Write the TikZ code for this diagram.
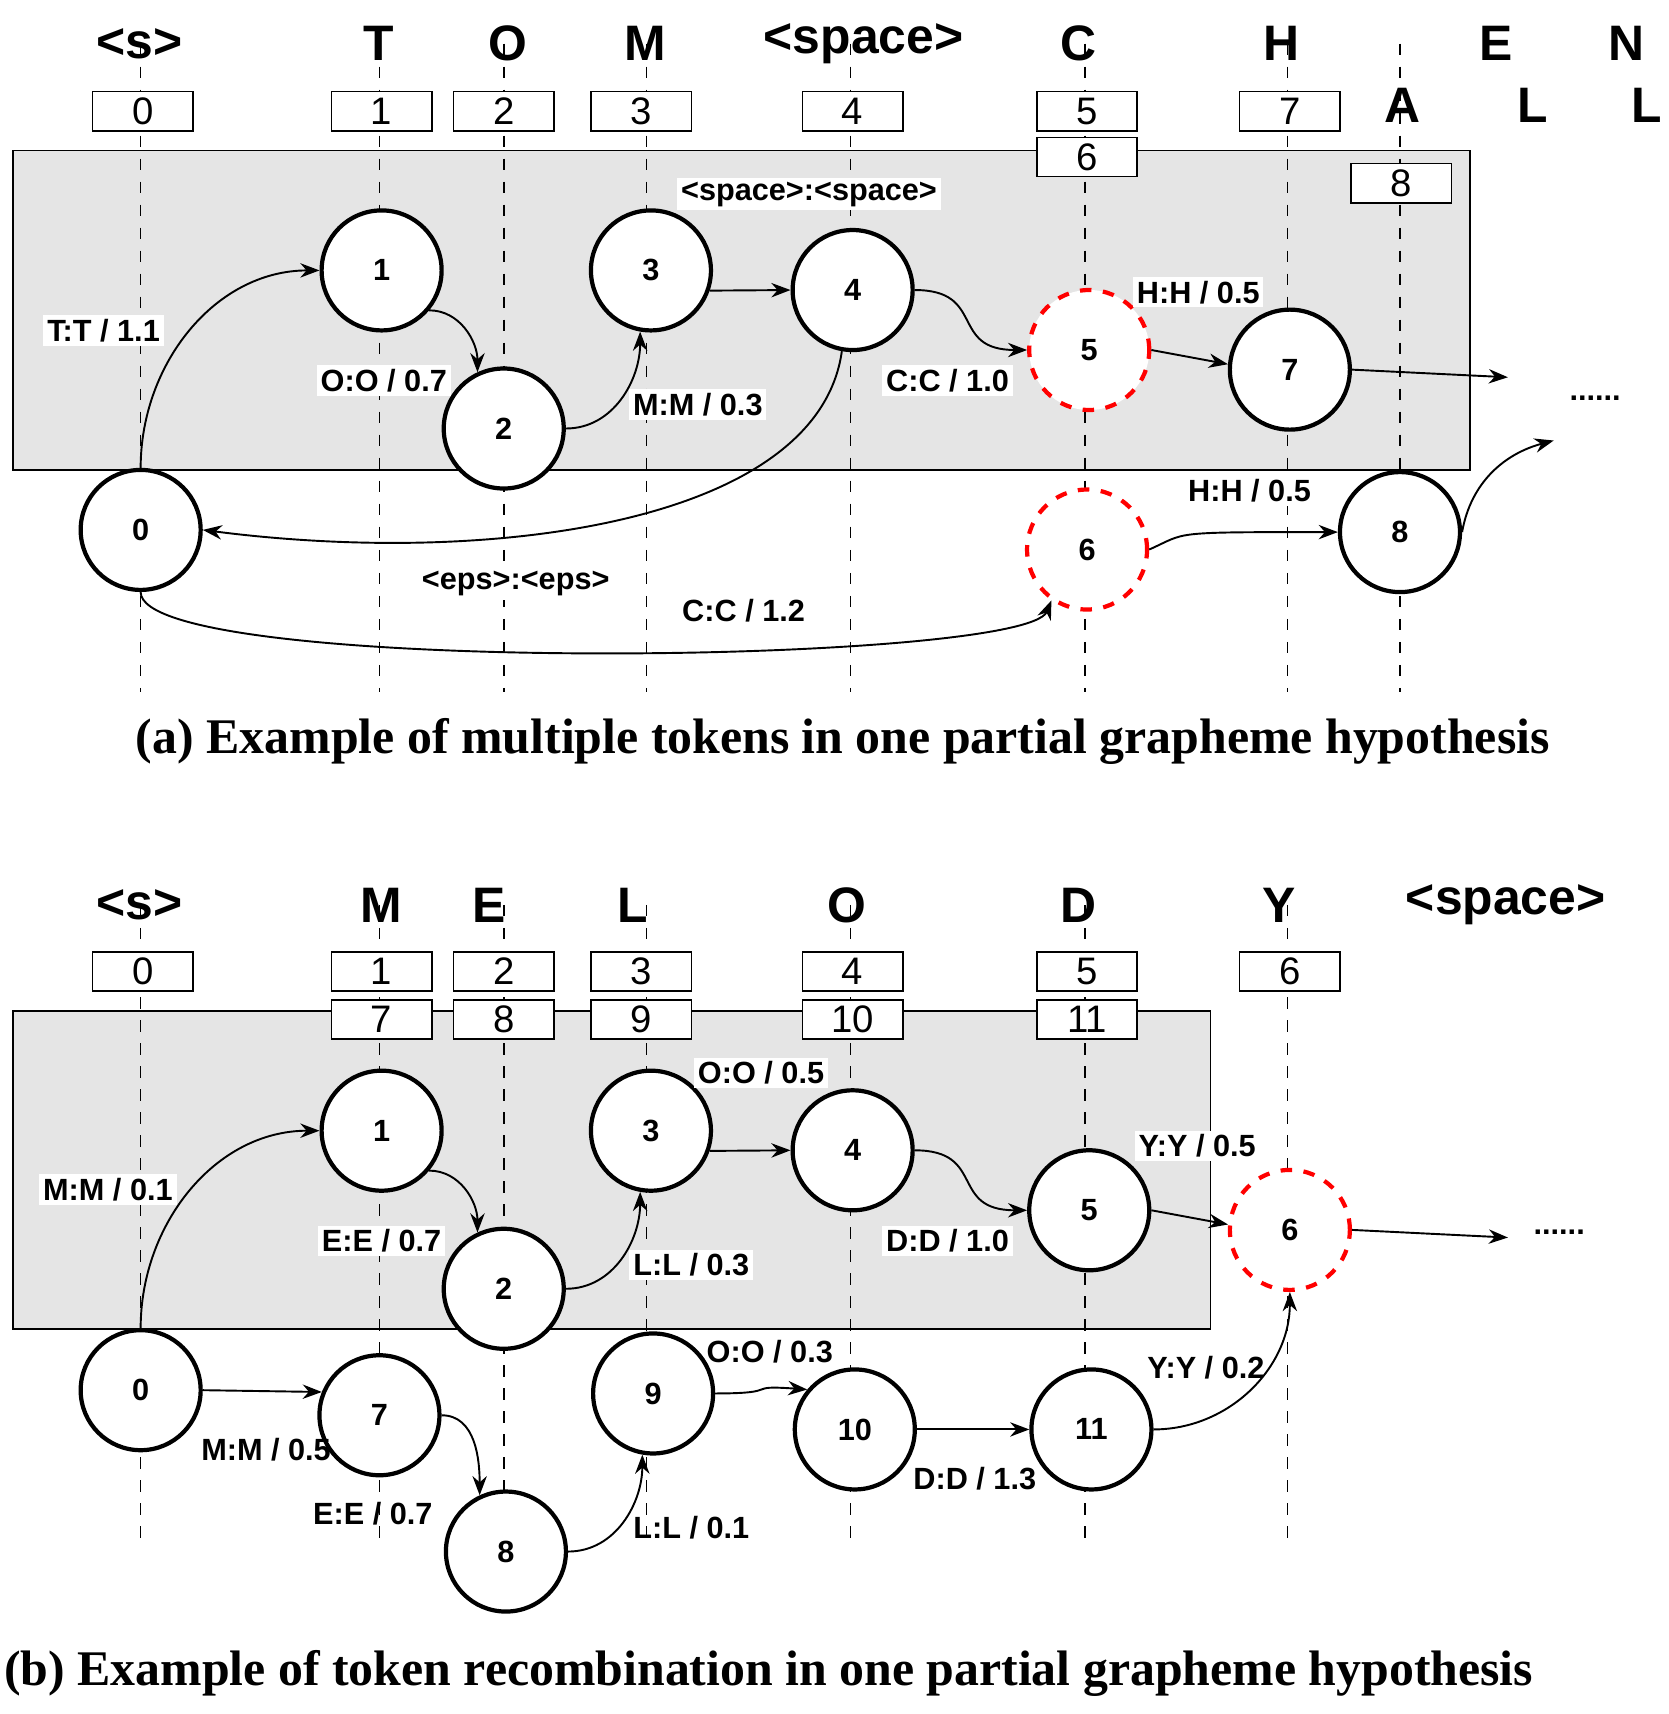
\documentclass[tikz,border=0pt]{standalone}
\usepackage{fontspec}
\setmainfont{Liberation Serif}
\setsansfont{Liberation Sans}
\usetikzlibrary{arrows.meta,positioning}
\tikzset{%
state/.style={circle, draw, line width=1.1pt, minimum size=1.1cm, inner sep=0pt, font=\sffamily\bfseries\fontsize{8}{9}\selectfont},
hyp/.style={state, draw=red, dashed},
idx/.style={draw, minimum width=0.92cm, minimum height=0.36cm, inner sep=0pt, font=\sffamily\fontsize{10}{11}\selectfont},
sym/.style={font=\sffamily\bfseries\fontsize{13}{15}\selectfont},
lbl/.style={fill=white, inner sep=1pt, font=\sffamily\bfseries\fontsize{8}{9.5}\selectfont},
tr/.style={-{Stealth[length=5pt]}, line width=0.5pt},
frame/.style={dashed, line width=0.4pt},
caption/.style={font=\rmfamily\bfseries\fontsize{13}{16}\selectfont}
}
\begin{document}
\begin{tikzpicture}[x=0.01cm,y=-0.01cm]
\useasboundingbox (0,0) rectangle (1530,1572);
% ---------- (a)
\fill[gray!20] (12,138) rectangle (1348,431);
\draw[line width=0.4pt] (12,138) rectangle (1348,431);
\foreach \x in {129,348,462,593,780,995,1181,1284}
  \draw[frame] (\x,40) -- (\x,635);
\node[sym] at (128,40) {<s>};
\node[sym] at (347,40) {T};
\node[sym] at (466,40) {O};
\node[sym] at (592,40) {M};
\node[sym] at (792,40) {<space>};
\node[sym] at (989,40) {C};
\node[sym] at (1175,40) {H};
\node[sym] at (1372,40) {E};
\node[sym] at (1492,40) {N};
\node[sym] at (1286,97) {A};
\node[sym] at (1406,97) {L};
\node[sym] at (1510,97) {L};
\node[idx,fill=white] at (131,102) {0};
\node[idx,fill=white] at (350,102) {1};
\node[idx,fill=white] at (462,102) {2};
\node[idx,fill=white] at (588,102) {3};
\node[idx,fill=white] at (782,102) {4};
\node[idx,fill=white] at (997,102) {5};
\node[idx,fill=white] at (997,144) {6};
\node[idx,fill=white] at (1183,102) {7};
\node[idx,fill=white] at (1285,168) {8};

\node[state,fill=white] (a0) at (129,486) {0};
\node[state,fill=white] (a1) at (350,248) {1};
\node[state,fill=white] (a2) at (462,393) {2};
\node[state,fill=white] (a3) at (597,248) {3};
\node[state,fill=white] (a4) at (782,266) {4};
\node[hyp,fill=white] (a5) at (999,321) {5};
\node[state,fill=white] (a7) at (1183,339) {7};
\node[hyp,fill=white] (a6) at (997,504) {6};
\node[state,fill=white] (a8) at (1284,488) {8};
\coordinate (aend7) at (1383,346);
\coordinate (aend8) at (1425,404);

\draw[tr] (a0.north) to[out=90,in=180] (a1.west);
\draw[tr] (a1.-40) to[out=0,in=90] (a2.115);
\draw[tr] (a2.east) to[out=0,in=-90] (a3.-100);
\draw[tr] (a3.-19) -- (a4.west);
\draw[tr] (a4.-100) .. controls (750,480) and (450,520) .. (a0.east);
\draw[tr] (a4.east) .. controls (905,266) and (870,321) .. (a5.west);
\draw[tr] (a5.east) -- (a7.175);
\draw[tr] (a7.east) -- (aend7);
\draw[tr] (a0.south) .. controls (129,620) and (940,610) .. (a6.-125);
\draw[tr] (a6.east) .. controls (1090,488) and (1070,488) .. (a8.west);
\draw[tr] (a8.east) to[out=80,in=195] (aend8);

\node[lbl] at (95,303) {T:T / 1.1};
\node[lbl] at (352,349) {O:O / 0.7};
\node[lbl] at (640,371) {M:M / 0.3};
\node[lbl] at (742,178) {<space>:<space>};
\node[lbl] at (869,349) {C:C / 1.0};
\node[lbl] at (1099,268) {H:H / 0.5};
\node[lbl] at (473,535) {<eps>:<eps>};
\node[lbl] at (682,560) {C:C / 1.2};
\node[lbl] at (1146,450) {H:H / 0.5};
\node[lbl,fill=none] at (1463,365) {......};
\node[caption] at (773,680) {(a) Example of multiple tokens in one partial grapheme hypothesis};

% ---------- (b)
\fill[gray!20] (12,927) rectangle (1110,1219);
\draw[line width=0.4pt] (12,927) rectangle (1110,1219);
\foreach \x in {129,348,462,593,780,995,1181}
  \draw[frame] (\x,830) -- (\x,1420);
\node[sym] at (128,830) {<s>};
\node[sym] at (350,830) {M};
\node[sym] at (449,830) {E};
\node[sym] at (580,830) {L};
\node[sym] at (777,830) {O};
\node[sym] at (989,830) {D};
\node[sym] at (1173,830) {Y};
\node[sym] at (1381,830) {<space>};
\node[idx,fill=white] at (131,891) {0};
\node[idx,fill=white] at (350,891) {1};
\node[idx,fill=white] at (462,891) {2};
\node[idx,fill=white] at (588,891) {3};
\node[idx,fill=white] at (782,891) {4};
\node[idx,fill=white] at (997,891) {5};
\node[idx,fill=white] at (1183,891) {6};
\node[idx,fill=white] at (350,935) {7};
\node[idx,fill=white] at (462,935) {8};
\node[idx,fill=white] at (588,935) {9};
\node[idx,fill=white] at (782,935) {10};
\node[idx,fill=white] at (997,935) {11};

\node[state,fill=white] (b0) at (129,1275) {0};
\node[state,fill=white] (b1) at (350,1037) {1};
\node[state,fill=white] (b2) at (462,1182) {2};
\node[state,fill=white] (b3) at (597,1037) {3};
\node[state,fill=white] (b4) at (782,1055) {4};
\node[state,fill=white] (b5) at (999,1110) {5};
\node[hyp,fill=white] (b6) at (1183,1128) {6};
\node[state,fill=white] (b7) at (348,1298) {7};
\node[state,fill=white] (b8) at (464,1423) {8};
\node[state,fill=white] (b9) at (599,1278) {9};
\node[state,fill=white] (b10) at (784,1311) {10};
\node[state,fill=white] (b11) at (1001,1311) {11};
\coordinate (bend6) at (1383,1135);

\draw[tr] (b0.north) to[out=90,in=180] (b1.west);
\draw[tr] (b1.-40) to[out=0,in=90] (b2.115);
\draw[tr] (b2.east) to[out=0,in=-90] (b3.-100);
\draw[tr] (b3.-19) -- (b4.west);
\draw[tr] (b4.east) .. controls (905,1055) and (870,1110) .. (b5.west);
\draw[tr] (b5.east) -- (b6.175);
\draw[tr] (b6.east) -- (bend6);
\draw[tr] (b0.east) -- (b7.158);
\draw[tr] (b7.east) to[out=0,in=90] (b8.115);
\draw[tr] (b8.east) to[out=0,in=-90] (b9.-100);
\draw[tr] (b9.east) .. controls (720,1278) and (680,1270) .. (b10.140);
\draw[tr] (b10.east) -- (b11.west);
\draw[tr] (b11.east) to[out=0,in=-90] (b6.south);

\node[lbl] at (99,1091) {M:M / 0.1};
\node[lbl] at (350,1138) {E:E / 0.7};
\node[lbl] at (634,1160) {L:L / 0.3};
\node[lbl] at (698,984) {O:O / 0.5};
\node[lbl] at (869,1138) {D:D / 1.0};
\node[lbl] at (1098,1051) {Y:Y / 0.5};
\node[lbl,fill=none] at (244,1330) {M:M / 0.5};
\node[lbl,fill=none] at (342,1388) {E:E / 0.7};
\node[lbl,fill=none] at (634,1401) {L:L / 0.1};
\node[lbl,fill=none] at (706,1240) {O:O / 0.3};
\node[lbl,fill=none] at (894,1356) {D:D / 1.3};
\node[lbl,fill=none] at (1106,1254) {Y:Y / 0.2};
\node[lbl,fill=none] at (1430,1130) {......};
\node[caption] at (705,1535) {(b) Example of token recombination in one partial grapheme hypothesis};
\end{tikzpicture}
\end{document}
